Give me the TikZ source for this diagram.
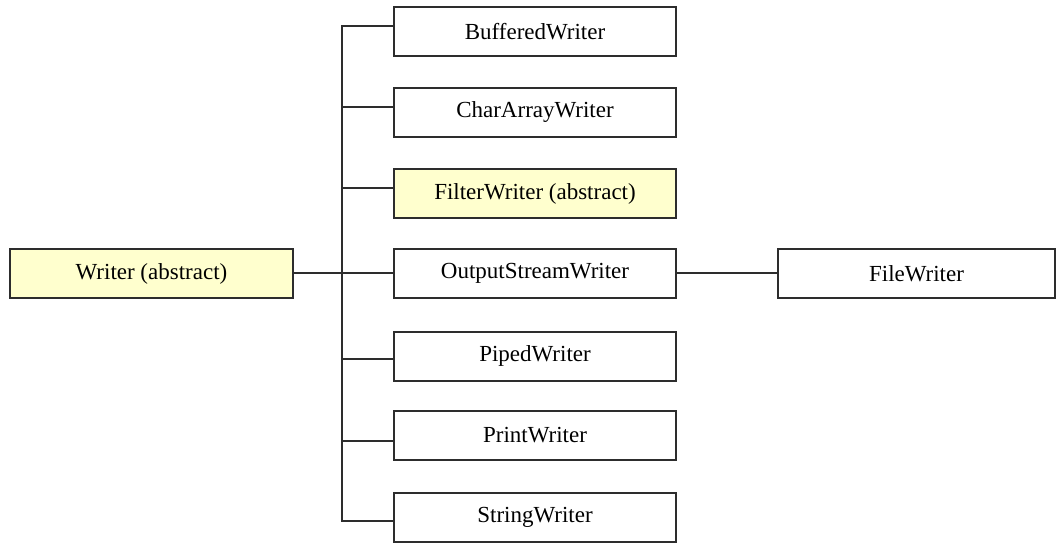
\documentclass[tikz,border=0pt]{standalone}
\usepackage{fontspec}
\setmainfont{Liberation Serif}
\definecolor{absfill}{RGB}{255,255,206}
\definecolor{edge}{RGB}{45,45,45}
\begin{document}
\begin{tikzpicture}[x=1pt,y=-1pt,
  box/.style={draw=edge, line width=2pt, minimum width=282pt, minimum height=49pt,
    inner sep=0pt, font=\fontsize{23}{27}\selectfont},
  abstractbox/.style={box, fill=absfill},
  link/.style={draw=edge, line width=2pt}]
\useasboundingbox (0,0) rectangle (1058,542);
\node[abstractbox, minimum width=283pt] (writer) at (151.5,273.5) {Writer (abstract)};
\node[box] (bw)  at (535,31.5)  {BufferedWriter};
\node[box] (caw) at (535,112)   {CharArrayWriter};
\node[abstractbox] (flw) at (535,193.5) {FilterWriter (abstract)};
\node[box] (osw) at (535,273.5) {OutputStreamWriter};
\node[box] (pw)  at (535,356)   {PipedWriter};
\node[box] (prw) at (535,435.5) {PrintWriter};
\node[box] (sw)  at (535,517.5) {StringWriter};
\node[box, minimum width=277pt] (fw) at (916.5,273.5) {FileWriter};
\coordinate (y1) at (342,26);
\coordinate (y2) at (342,107);
\coordinate (y3) at (342,188);
\coordinate (y4) at (342,273);
\coordinate (y5) at (342,359);
\coordinate (y6) at (342,441);
\coordinate (y7) at (342,521);
\draw[link] (bw.west |- y1) -- (y1) -- (y7) -- (sw.west |- y7);
\draw[link] (y2) -- (caw.west |- y2);
\draw[link] (y3) -- (flw.west |- y3);
\draw[link] (writer.east |- y4) -- (osw.west |- y4);
\draw[link] (y5) -- (pw.west |- y5);
\draw[link] (y6) -- (prw.west |- y6);
\draw[link] (osw.east |- y4) -- (fw.west |- y4);
\end{tikzpicture}
\end{document}
